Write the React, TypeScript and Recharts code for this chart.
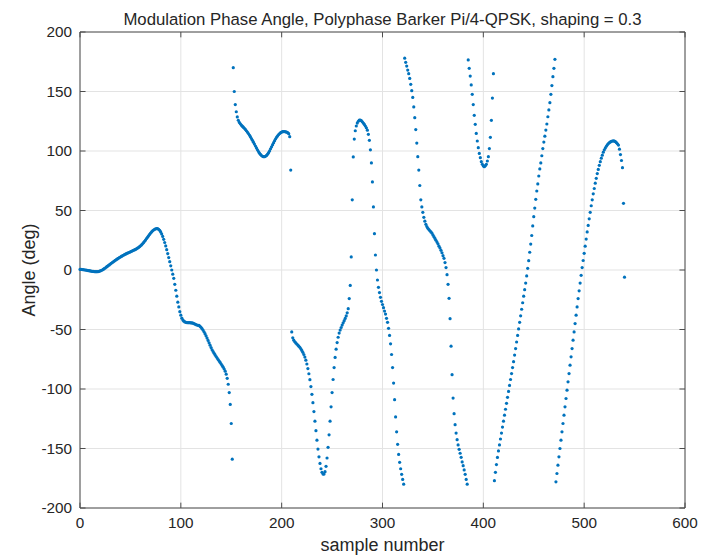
import { ScatterChart, Scatter, XAxis, YAxis, CartesianGrid, ReferenceLine } from "recharts";

// phase angle per sample, split where the angle wraps
const segAStart = 0;
const segA = [
  0.5, 0.5, 0.4, 0.3, 0.2, 0, -0.1, -0.3, -0.5, -0.6,
  -0.8, -0.9, -1.1, -1.2, -1.3, -1.4, -1.4, -1.4, -1.3, -1.1,
  -0.8, -0.4, 0, 0.5, 1.1, 1.7, 2.4, 3.0, 3.7, 4.3,
  5.0, 5.6, 6.3, 6.9, 7.5, 8.1, 8.7, 9.3, 9.8, 10.4,
  10.9, 11.4, 11.9, 12.4, 12.9, 13.3, 13.7, 14.1, 14.5, 14.9,
  15.3, 15.7, 16.1, 16.5, 16.9, 17.3, 17.8, 18.3, 18.9, 19.6,
  20.3, 21.1, 22.0, 23.0, 24.1, 25.2, 26.4, 27.6, 28.8, 29.9,
  31.0, 32.0, 32.9, 33.6, 34.2, 34.6, 34.8, 34.7, 34.2, 33.3,
  32.0, 30.3, 28.2, 25.8, 23.1, 20.2, 17.1, 13.8, 10.4, 7.0,
  3.5, 0, -3.5, -7, -12, -17, -22, -27, -31, -35,
  -38, -40.5, -42, -43, -43.6, -44, -44.2, -44.3, -44.3, -44.3,
  -44.4, -44.5, -44.7, -45, -45.4, -45.9, -46.2, -46.5, -46.5, -47.3,
  -48.2, -49.3, -50.5, -51.9, -53.5, -55.3, -57.2, -59.2, -61.2, -63.2,
  -65.2, -67, -68.5, -70, -71.4, -72.7, -74, -75.3, -76.5, -77.7,
  -79, -80.3, -81.7, -83.2, -85, -87.5, -91, -96, -103, -113,
  -129, -159,
];

const segBStart = 152;
const segB = [
  170, 150, 139, 133, 128.6, 125.8, 124, 122.8, 121.8, 120.9,
  120, 119.1, 118.1, 117, 115.9, 114.7, 113.4, 112, 110.5, 109,
  107.4, 105.8, 104.2, 102.6, 101, 99.6, 98.2, 97.1, 96.2, 95.5,
  95.2, 95.2, 95.6, 96.3, 97.3, 98.6, 100.1, 101.8, 103.5, 105.3,
  107, 108.7, 110.2, 111.6, 112.8, 113.8, 114.7, 115.4, 115.9, 116.2,
  116.3, 116.3, 116.1, 115.8, 115.4, 114.6, 112, 84,
];

const segCStart = 210;
const segC = [
  -52, -57, -59, -60.3, -61.3, -62.2, -63.1, -64, -65, -66.2,
  -67.6, -69.2, -71, -73.2, -75.8, -79, -82.8, -87.2, -92.2, -98,
  -104.5, -111.5, -119, -127, -135, -143, -150.5, -157, -162.5, -167,
  -170, -171.5, -171.5, -169.5, -165, -158, -149, -138.5, -127, -115,
  -103, -92, -82, -73.5, -66.5, -61, -56.5, -53, -50.5, -48.3,
  -46.3, -44.4, -42.6, -40.7, -38.6, -36, -32.5, -24, -13, 11,
  59, 95, 110, 117, 121, 123.5, 125, 126, 126, 125.5,
  124.5, 123.5, 122.3, 121, 119.5, 117.5, 114, 109, 101, 90,
  74, 53, 30.5, 12.6, 0, -8.4, -14.6, -19, -23, -26.3,
  -29, -31.7, -34.5, -37, -40.6, -44, -49, -55, -62, -71,
  -82, -95, -109, -123.5, -136, -146.5, -155, -161.6, -167, -171.7,
  -176, -180,
];

const segDStart = 322;
const segD = [
  178, 174.5, 171.4, 168, 165, 161, 156, 150.7, 145, 137,
  128, 118, 106.7, 95.2, 84, 71, 59, 53, 48.5, 44.3,
  41, 38.4, 36.5, 35, 34, 33, 32, 31, 29.5, 28,
  26.5, 25, 23.5, 22, 20, 18.5, 16.5, 14.5, 12, 9.8,
  6.2, 2, -3.9, -12, -23.8, -40.9, -64, -88, -107.6, -120.7,
  -130, -137, -142.6, -147, -150.7, -154, -157.4, -161.3, -164.4, -168,
  -171.7, -176, -180,
];

const segEStart = 385;
const segE = [
  176.5, 169.5, 163, 155.5, 147.6, 139, 130, 122.4, 114.8, 108.4,
  102.8, 98, 94.4, 91, 88.8, 87.4, 86.8, 87.7, 88.8, 91.6,
  95.2, 102, 111.5, 125.8, 144.5, 165,
];

const segFStart = 411;
const segF = [
  -177, -170, -163.5, -157.5, -152, -147, -142, -137, -132, -127,
  -122, -117, -112, -107, -102, -97, -92, -87, -82, -77,
  -71.5, -66, -60.5, -55, -49.5, -44, -38.5, -33, -27.5, -22,
  -16.5, -11, -5, 1.4, 7.8, 14.9, 21.8, 29, 37, 44.8,
  52, 59.4, 66.4, 72.3, 79, 84.9, 90, 96, 102, 107.5,
  112.5, 117.6, 122.7, 128.8, 134.5, 140.6, 147.6, 155, 162.5, 169.5,
  177,
];

const segGStart = 472;
const segG = [
  -178, -171, -164, -157, -150, -143, -136, -129, -122, -115,
  -108, -101, -94, -87, -80, -73, -66, -59, -52, -45,
  -38, -31, -24, -17.5, -11, -4.5, 2, 8, 14, 20,
  26, 32, 37.5, 43, 48.5, 54, 59, 64, 68.5, 73,
  77, 81, 84.5, 88, 91, 94, 96.5, 99, 101, 102.5,
  104, 105.2, 106.2, 107, 107.6, 108.1, 108.4, 108.5, 108.3, 107.8,
  107, 106, 105, 101.5, 97, 92, 86, 56, -6,
];

const xTicks = [0, 100, 200, 300, 400, 500, 600];
const yTicks = [-200, -150, -100, -50, 0, 50, 100, 150, 200];

const segments: [number, number[]][] = [
  [segAStart, segA],
  [segBStart, segB],
  [segCStart, segC],
  [segDStart, segD],
  [segEStart, segE],
  [segFStart, segF],
  [segGStart, segG],
];

const points = segments.flatMap(([start, vals]) =>
  vals.map((y, i) => ({ x: start + i, y }))
);

const AXIS = "#4d4d4d";
const TEXT = "#262626";
const FONT = "'Liberation Sans', Arial, Helvetica, sans-serif";

const Dot = (props: any) => (
  <circle cx={props.cx} cy={props.cy} r={1.6} fill="#0072BD" />
);

export default function App() {
  return (
    <div style={{ position: "absolute", left: 0, top: 0, width: 701, height: 556, background: "#fff", fontFamily: FONT }}>
      <ScatterChart width={701} height={556} margin={{ top: 32, right: 16, bottom: 0, left: 0 }}>
        <CartesianGrid stroke="#e3e3e3" />
        <XAxis
          type="number"
          dataKey="x"
          domain={[0, 600]}
          ticks={xTicks}
          height={48}
          stroke={AXIS}
          tickLine={false}
          tickMargin={3}
          tick={{ fill: TEXT, fontSize: 15.3, fontFamily: FONT }}
        />
        <YAxis
          type="number"
          dataKey="y"
          domain={[-200, 200]}
          ticks={yTicks}
          width={80}
          stroke={AXIS}
          tickLine={false}
          tickMargin={2}
          tick={{ fill: TEXT, fontSize: 15.3, fontFamily: FONT }}
        />
        <ReferenceLine y={200} stroke={AXIS} />
        <ReferenceLine x={600} stroke={AXIS} />
        {xTicks.map((t) => (
          <ReferenceLine key={"xb" + t} segment={[{ x: t, y: -200 }, { x: t, y: -195.5 }]} stroke={AXIS} />
        ))}
        {xTicks.map((t) => (
          <ReferenceLine key={"xt" + t} segment={[{ x: t, y: 200 }, { x: t, y: 195.5 }]} stroke={AXIS} />
        ))}
        {yTicks.map((t) => (
          <ReferenceLine key={"yl" + t} segment={[{ x: 0, y: t }, { x: 5.5, y: t }]} stroke={AXIS} />
        ))}
        {yTicks.map((t) => (
          <ReferenceLine key={"yr" + t} segment={[{ x: 600, y: t }, { x: 594.5, y: t }]} stroke={AXIS} />
        ))}
        <Scatter data={points} shape={Dot} isAnimationActive={false} />
      </ScatterChart>
      <div style={{ position: "absolute", left: 80, width: 605, top: 10, textAlign: "center", fontSize: 16.75, color: TEXT, whiteSpace: "nowrap" }}>
        Modulation Phase Angle, Polyphase Barker Pi/4-QPSK, shaping = 0.3
      </div>
      <div style={{ position: "absolute", left: 80, width: 605, top: 535, textAlign: "center", fontSize: 18, color: TEXT }}>
        sample number
      </div>
      <div
        style={{
          position: "absolute",
          left: 29,
          top: 270,
          transform: "translate(-50%, -50%) rotate(-90deg)",
          whiteSpace: "nowrap",
          fontSize: 18,
          color: TEXT,
        }}
      >
        Angle (deg)
      </div>
    </div>
  );
}
